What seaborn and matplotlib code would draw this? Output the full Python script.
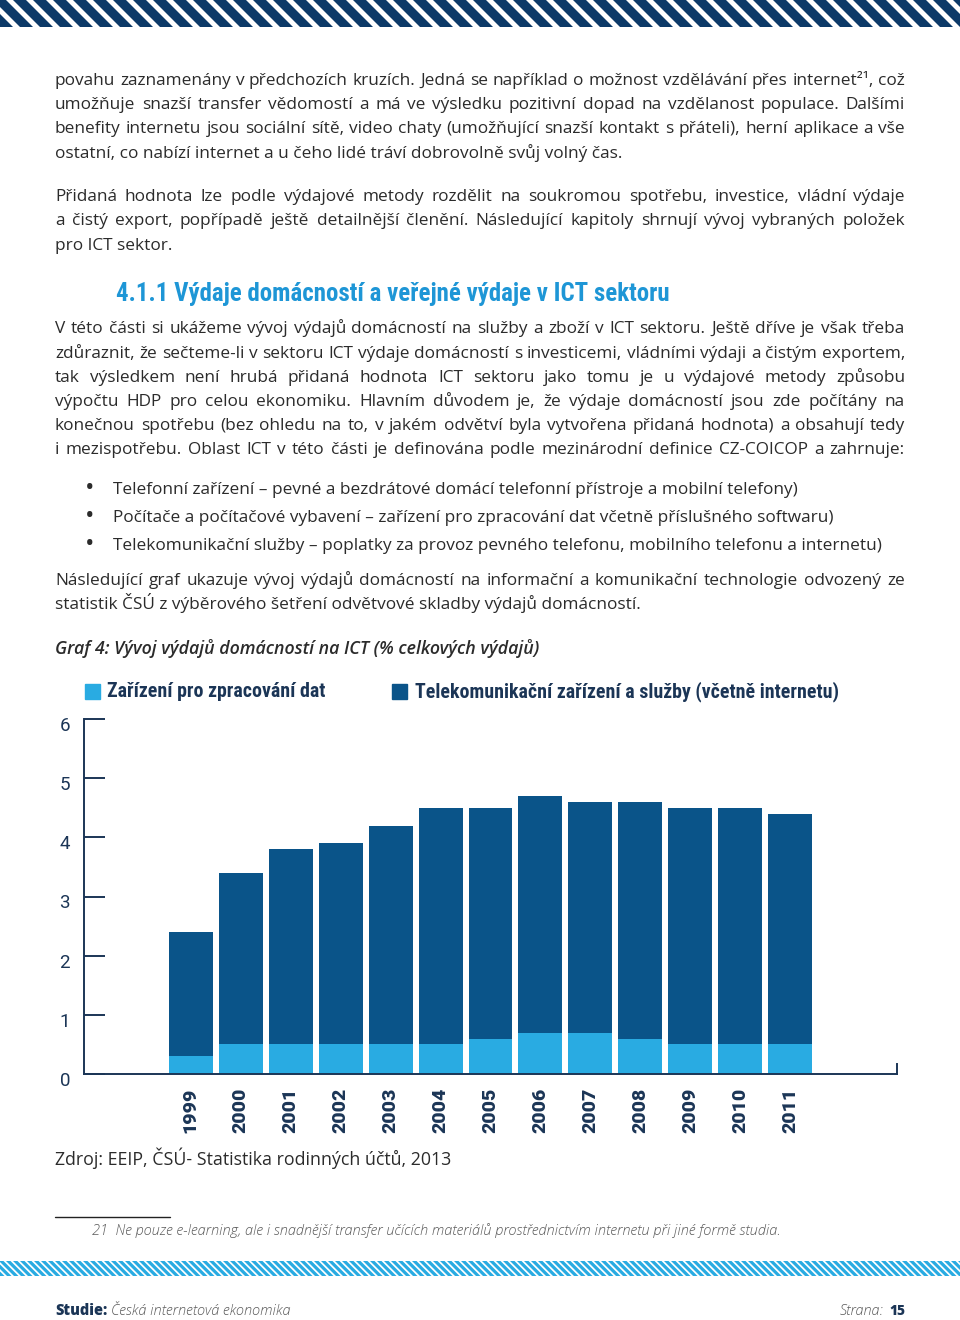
import numpy as np
import pandas as pd
import matplotlib
matplotlib.use("Agg")
import matplotlib.pyplot as plt
import matplotlib.transforms as mtransforms
from matplotlib import font_manager as fm
from matplotlib.patches import Polygon, Rectangle
from matplotlib.lines import Line2D
import seaborn as sns

# ---------------- data ----------------
years = ["1999", "2000", "2001", "2002", "2003", "2004", "2005",
         "2006", "2007", "2008", "2009", "2010", "2011"]
zpracovani_dat = [0.3, 0.5, 0.5, 0.5, 0.5, 0.5, 0.6, 0.7, 0.7, 0.6, 0.5, 0.5, 0.5]
telekomunikace = [2.1, 2.9, 3.3, 3.4, 3.7, 4.0, 3.9, 4.0, 3.9, 4.0, 4.0, 4.0, 3.9]
y_ticks = [0, 1, 2, 3, 4, 5, 6]
series_labels = ["Zařízení pro zpracování dat",
                 "Telekomunikační zařízení a služby (včetně internetu)"]

para1 = [
    ("povahu zaznamenány v předchozích kruzích. Jedná se například o možnost vzdělávání přes internet²¹, což", True),
    ("umožňuje snazší transfer vědomostí a má ve výsledku pozitivní dopad na vzdělanost populace. Dalšími", True),
    ("benefity internetu jsou sociální sítě, video chaty (umožňující snazší kontakt s přáteli), herní aplikace a vše", True),
    ("ostatní, co nabízí internet a u čeho lidé tráví dobrovolně svůj volný čas.", False),
]
para2 = [
    ("Přidaná hodnota lze podle výdajové metody rozdělit na soukromou spotřebu, investice, vládní výdaje", True),
    ("a čistý export, popřípadě ještě detailnější členění. Následující kapitoly shrnují vývoj vybraných položek", True),
    ("pro ICT sektor.", False),
]
heading = "4.1.1 Výdaje domácností a veřejné výdaje v ICT sektoru"
para3 = [
    ("V této části si ukážeme vývoj výdajů domácností na služby a zboží v ICT sektoru. Ještě dříve je však třeba", True),
    ("zdůraznit, že sečteme-li v sektoru ICT výdaje domácností s investicemi, vládními výdaji a čistým exportem,", True),
    ("tak výsledkem není hrubá přidaná hodnota ICT sektoru jako tomu je u výdajové metody způsobu", True),
    ("výpočtu HDP pro celou ekonomiku. Hlavním důvodem je, že výdaje domácností jsou zde počítány na", True),
    ("konečnou spotřebu (bez ohledu na to, v jakém odvětví byla vytvořena přidaná hodnota) a obsahují tedy", True),
    ("i mezispotřebu. Oblast ICT v této části je definována podle mezinárodní definice CZ-COICOP a zahrnuje:", True),
]
bullets = [
    "Telefonní zařízení – pevné a bezdrátové domácí telefonní přístroje a mobilní telefony)",
    "Počítače a počítačové vybavení – zařízení pro zpracování dat včetně příslušného softwaru)",
    "Telekomunikační služby – poplatky za provoz pevného telefonu, mobilního telefonu a internetu)",
]
para4 = [
    ("Následující graf ukazuje vývoj výdajů domácností na informační a komunikační technologie odvozený ze", True),
    ("statistik ČSÚ z výběrového šetření odvětvové skladby výdajů domácností.", False),
]
caption = "Graf 4: Vývoj výdajů domácností na ICT (% celkových výdajů)"
source = "Zdroj: EEIP, ČSÚ- Statistika rodinných účtů, 2013"
footnote = "21  Ne pouze e-learning, ale i snadnější transfer učících materiálů prostřednictvím internetu při jiné formě studia."

# ---------------- style ----------------
LIGHT = "#29abe2"
DARK = "#0a5489"
NAVY = "#1b3556"
HEADBLUE = "#1e96d6"
BODYC = "#2b2b2b"
GRAY = "#5a5a5a"

names = {f.name for f in fm.fontManager.ttflist}
def pick(*cands):
    for c in cands:
        if c in names:
            return c
    return "DejaVu Sans"

BODY = pick("Liberation Sans Narrow", "Open Sans")
ITAL = pick("Open Sans", "Noto Sans")
HEAD = pick("Roboto Condensed", "Liberation Sans Narrow", "Roboto")
DIN = pick("Roboto", "DejaVu Sans")

sns.set_theme(style="white")
plt.rcParams["font.family"] = [BODY, "DejaVu Sans"]

W, H = 960, 1320
fig = plt.figure(figsize=(W / 100, H / 100), dpi=100)
fig.patch.set_facecolor("white")
renderer = fig.canvas.get_renderer()

def fx(x):
    return x / W

def fy(y):
    return 1 - y / H

def twidth(s, **kw):
    t = fig.text(0, 0, s, **kw)
    w = t.get_window_extent(renderer).width
    t.remove()
    return w

def put(x, y, s, **kw):
    return fig.text(fx(x), fy(y), s, va="baseline", **kw)

def fit(s, width, base=12, **kw):
    return base * width / twidth(s, fontsize=base, **kw)

def justify(x0, x1, y, s, size, **kw):
    words = s.split(" ")
    ws = [twidth(w, fontsize=size, **kw) for w in words]
    gap = (x1 - x0 - sum(ws)) / (len(words) - 1)
    x = x0
    for w, wd in zip(words, ws):
        put(x, y, w, fontsize=size, **kw)
        x += wd + gap

# body font size calibrated on the (non-justified) bullet line width
bkw = dict(family=[BODY, "DejaVu Sans"], color=BODYC)
body_size = fit(bullets[2], 789, **bkw)
allj = [l for l, j in para1 + para2 + para3 + para4 if j]
maxw = max(twidth(l, fontsize=body_size, **bkw) for l in allj)
if maxw > 845:
    body_size *= 845 / maxw

def paragraph(lines, baselines):
    for (line, j), yb in zip(lines, baselines):
        if j:
            justify(55, 905, yb, line, body_size, **bkw)
        else:
            put(55, yb, line, fontsize=body_size, **bkw)

paragraph(para1, [85, 109, 133, 158])
paragraph(para2, [201, 225, 250])

hkw = dict(family=[HEAD, "DejaVu Sans"], fontweight="bold")
put(116, 301, heading, fontsize=fit(heading, 554, **hkw), color=HEADBLUE, **hkw)

paragraph(para3, [333, 358, 382, 406, 430, 454])
for b, yb in zip(bullets, [494, 522, 550]):
    put(85, yb + 1, "•", fontsize=body_size * 1.45, **bkw)
    put(113, yb, b, fontsize=body_size, **bkw)
paragraph(para4, [585, 609])

ckw = dict(family=[ITAL, "DejaVu Sans"], fontweight="semibold", style="italic")
put(55, 654, caption, fontsize=fit(caption, 485, **ckw), color=BODYC, **ckw)

# ---------------- legend (manual) ----------------
lkw = dict(family=[HEAD, "DejaVu Sans"], fontweight="bold")
fig.add_artist(Rectangle((fx(85), fy(699)), 15 / W, 15 / H, color=LIGHT, transform=fig.transFigure))
put(107, 697, series_labels[0], fontsize=fit(series_labels[0], 218, **lkw), color=NAVY, **lkw)
fig.add_artist(Rectangle((fx(392), fy(699)), 15 / W, 15 / H, color=DARK, transform=fig.transFigure))
put(415, 697, series_labels[1], fontsize=fit(series_labels[1], 422, **lkw), color=NAVY, **lkw)

# ---------------- chart ----------------
ax = fig.add_axes([fx(84), fy(1074), (897 - 84) / W, (1074 - 719) / H])
df = pd.DataFrame({"Rok": years, "zpracovani": zpracovani_dat, "telekom": telekomunikace})
df["celkem"] = df["zpracovani"] + df["telekom"]
sns.barplot(data=df, x="Rok", y="celkem", color=DARK, saturation=1, width=0.88,
            errorbar=None, linewidth=0, ax=ax)
sns.barplot(data=df, x="Rok", y="zpracovani", color=LIGHT, saturation=1, width=0.88,
            errorbar=None, linewidth=0, ax=ax)
ax.set_xlim(-2.14, len(years) - 1 + 2.14)
ax.set_ylim(0, 6)
ax.set_yticks(y_ticks)
ax.set_xlabel("")
ax.set_ylabel("")
ax.set_facecolor("white")
ax.grid(False)
for s in ["left", "bottom", "right"]:
    ax.spines[s].set_visible(True)
    ax.spines[s].set_color(NAVY)
    ax.spines[s].set_linewidth(1.4)
ax.spines["top"].set_visible(False)
ax.spines["left"].set_bounds(0, 6)
ax.spines["right"].set_bounds(0, 0.17)
ax.tick_params(axis="y", direction="in", length=15, width=1.4, color=NAVY,
               pad=10, labelsize=13.5, labelcolor=NAVY, left=True)
ax.tick_params(axis="x", length=0, pad=10, labelsize=14, labelcolor=NAVY)
off = mtransforms.ScaledTranslation(0, -5 / 100, fig.dpi_scale_trans)
for lab in ax.get_yticklabels():
    lab.set_fontfamily([DIN, "DejaVu Sans"])
    lab.set_transform(lab.get_transform() + off)
for lab in ax.get_xticklabels():
    lab.set_fontfamily([DIN, "DejaVu Sans"])
    lab.set_fontweight("black")
    lab.set_rotation(90)
    lab.set_ha("center")
    lab.set_va("top")

# ---------------- source & footnote ----------------
put(55, 1165, source, fontsize=fit(source, 394, **bkw), **bkw)
fig.add_artist(Line2D([fx(55), fx(170)], [fy(1217), fy(1217)], color="#222222", lw=1.0,
                      transform=fig.transFigure))
fkw = dict(family=[ITAL, "DejaVu Sans"], style="italic", fontweight="light")
put(92, 1235, footnote, fontsize=fit(footnote, 689, **fkw), color=GRAY, **fkw)

# ---------------- stripes ----------------
def stripe_band(y0, y1, period, thick, color):
    a = fig.add_axes([0, fy(y1), 1, (y1 - y0) / H])
    a.set_xlim(0, W)
    a.set_ylim(y1, y0)
    a.axis("off")
    h = y1 - y0
    for x0 in np.arange(-h - period, W + period, period):
        a.add_patch(Polygon([(x0, y0), (x0 + thick, y0), (x0 + thick + h, y1), (x0 + h, y1)],
                            closed=True, color=color, lw=0))

stripe_band(0, 27, 20, 13, "#0c3968")
stripe_band(1261, 1276, 7, 4.5, LIGHT)

# ---------------- footer ----------------
skw = dict(family=[ITAL, "DejaVu Sans"], fontweight="heavy")
ikw = dict(family=[ITAL, "DejaVu Sans"], style="italic", fontweight="light")
put(55, 1315, "Studie:", fontsize=fit("Studie:", 52, **skw), color=NAVY, **skw)
put(111, 1315, "Česká internetová ekonomika",
    fontsize=fit("Česká internetová ekonomika", 179, **ikw), color=GRAY, **ikw)
put(840, 1315, "Strana:", fontsize=fit("Strana:", 44, **ikw), color=GRAY, **ikw)
put(889, 1315, "15", fontsize=fit("15", 16, **skw), color=NAVY, **skw)

fig.savefig("out.png", dpi=100, facecolor="white")
